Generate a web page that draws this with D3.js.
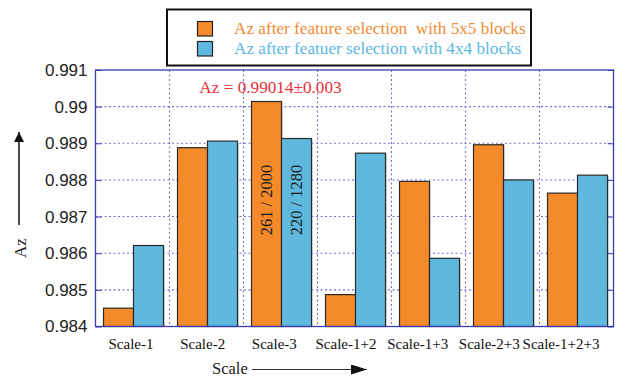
<!DOCTYPE html>
<html><head><meta charset="utf-8">
<script src="https://cdn.jsdelivr.net/npm/d3@7"></script>
<style>body{margin:0;background:#fff}svg{display:block}</style>
</head><body>
<script>
const categories = ["Scale-1","Scale-2","Scale-3","Scale-1+2","Scale-1+3","Scale-2+3","Scale-1+2+3"];
const series5x5 = [0.98450, 0.98888, 0.99014, 0.98487, 0.98796, 0.98896, 0.98764];
const series4x4 = [0.98621, 0.98906, 0.98913, 0.98873, 0.98586, 0.98800, 0.98813];
const seriesNames = ["Az after feature selection  with 5x5 blocks","Az after featuer selection with 4x4 blocks"];
const yTicks = [0.984,0.985,0.986,0.987,0.988,0.989,0.99,0.991];
const yTickLabels = ["0.984","0.985","0.986","0.987","0.988","0.989","0.99","0.991"];
const colors = ["#F48A2A","#5FB8DE"];
const textColors = ["#F28C38","#5BB8E2"];

const W=644,H=379;
const m={l:95.5,r:613.5,t:70,b:326.5};
const svg=d3.select("body").append("svg").attr("width",W).attr("height",H);
const x=d3.scaleBand().domain(categories).range([m.l,m.r]).paddingInner(0).paddingOuter(0);
const x1=d3.scaleBand().domain([0,1]).range([8,x.bandwidth()-6]);
// tick labels in the original are laid out slightly tighter than the bands
const xl=d3.scalePoint().domain(categories).range([m.l+35,m.r-53]);
const y=d3.scaleLinear().domain([0.984,0.991]).range([m.b,m.t]);
const gridC="#7070d0", axC="#3b3bb0";
const serif="Liberation Serif, Times New Roman, serif";

// grid
const g=svg.append("g");
yTicks.slice(1,-1).forEach(t=>{
  g.append("line").attr("x1",m.l).attr("x2",m.r).attr("y1",y(t)).attr("y2",y(t))
   .attr("stroke",gridC).attr("stroke-width",1.1).attr("stroke-dasharray","2,2.5");
});
categories.slice(1).forEach(c=>{
  g.append("line").attr("x1",x(c)).attr("x2",x(c)).attr("y1",m.t).attr("y2",m.b)
   .attr("stroke",gridC).attr("stroke-width",1.1).attr("stroke-dasharray","2,2.5");
});

// bars
const data=categories.map((c,i)=>({c,v:[series5x5[i],series4x4[i]]}));
const bars=svg.append("g");
data.forEach(d=>{
  d.v.forEach((v,k)=>{
    bars.append("rect").attr("x",x(d.c)+x1(k)+1).attr("y",y(v)+1)
      .attr("width",x1.bandwidth()).attr("height",y(0.984)-y(v)-1)
      .attr("fill","#bbb");
    bars.append("rect").attr("x",x(d.c)+x1(k)).attr("y",y(v))
      .attr("width",x1.bandwidth()).attr("height",y(0.984)-y(v))
      .attr("fill",colors[k]).attr("stroke","#2a2a2a").attr("stroke-width",1.2);
  });
});

// axes
const yAxisL=d3.axisLeft(y).tickValues(yTicks).tickFormat((d,i)=>yTickLabels[i]).tickSize(-6).tickPadding(8);
const gl=svg.append("g").attr("transform",`translate(${m.l},0)`).call(yAxisL);
gl.select(".domain").remove();
gl.selectAll(".tick line").attr("stroke",axC);
gl.selectAll(".tick text").attr("font-family","Liberation Sans, Arial, sans-serif").attr("font-size",17).attr("fill","#222");
const yAxisR=d3.axisRight(y).tickValues(yTicks).tickFormat("").tickSize(-6);
const gr=svg.append("g").attr("transform",`translate(${m.r},0)`).call(yAxisR);
gr.select(".domain").remove();
gr.selectAll(".tick line").attr("stroke",axC);

svg.append("rect").attr("x",m.l).attr("y",m.t).attr("width",m.r-m.l).attr("height",m.b-m.t)
  .attr("fill","none").attr("stroke",axC).attr("stroke-width",1.3);

const xAxis=d3.axisBottom(xl).tickSize(0).tickPadding(12);
const gx=svg.append("g").attr("transform",`translate(0,${m.b})`).call(xAxis);
gx.select(".domain").remove();
gx.selectAll(".tick text").attr("font-family",serif).attr("font-size",15).attr("fill","#111");

// axis titles + arrows
const defs=svg.append("defs");
defs.append("marker").attr("id","ah").attr("viewBox","0 0 10 10").attr("refX",10).attr("refY",5)
 .attr("markerWidth",10).attr("markerHeight",10).attr("markerUnits","userSpaceOnUse").attr("orient","auto")
 .append("path").attr("d","M0,0L10,5L0,10Z").attr("fill","#111");
defs.append("marker").attr("id","ah2").attr("viewBox","0 0 16 10").attr("refX",16).attr("refY",5)
 .attr("markerWidth",16).attr("markerHeight",10).attr("markerUnits","userSpaceOnUse").attr("orient","auto")
 .append("path").attr("d","M0,0L16,5L0,10Z").attr("fill","#111");
svg.append("text").attr("transform","translate(26,248) rotate(-90)").attr("text-anchor","middle")
 .attr("font-family",serif).attr("font-size",17).attr("fill","#222").text("Az");
svg.append("line").attr("x1",19).attr("x2",19).attr("y1",225).attr("y2",132).attr("stroke","#111").attr("stroke-width",1.5).attr("marker-end","url(#ah)");
svg.append("text").attr("x",212).attr("y",374).attr("font-family",serif).attr("font-size",16.5).attr("fill","#222").text("Scale");
svg.append("line").attr("x1",252).attr("x2",367).attr("y1",369.5).attr("y2",369.5).attr("stroke","#333").attr("stroke-width",1.2).attr("marker-end","url(#ah2)");

// annotations
svg.append("text").attr("x",x("Scale-3")+x.bandwidth()/2-10).attr("y",92.5).attr("text-anchor","middle")
 .attr("font-family",serif).attr("font-size",17.2).attr("fill","#E8323A").text("Az = 0.99014\u00B10.003");
const ann=["261 / 2000","220 / 1280"];
ann.forEach((t,k)=>{
  const cx=x("Scale-3")+x1(k)+x1.bandwidth()/2+5;
  svg.append("text").attr("transform",`translate(${cx},200) rotate(-90)`).attr("text-anchor","middle")
   .attr("font-family",serif).attr("font-size",16.5).attr("fill","#1a1a1a").text(t);
});

// legend
const lg=svg.append("g");
lg.append("rect").attr("x",167).attr("y",9.5).attr("width",364).attr("height",56).attr("fill","#fff").attr("stroke","#111").attr("stroke-width",2);
seriesNames.forEach((n,k)=>{
  lg.append("rect").attr("x",197.5).attr("y",21.5+k*20).attr("width",15).attr("height",14.5)
    .attr("fill",colors[k]).attr("stroke","#222").attr("stroke-width",1.2);
  lg.append("text").attr("x",234).attr("y",33.5+k*20).attr("font-family",serif)
    .attr("font-size",17.2).attr("fill",textColors[k]).attr("xml:space","preserve").style("white-space","pre").text(n);
});
</script>
</body></html>
